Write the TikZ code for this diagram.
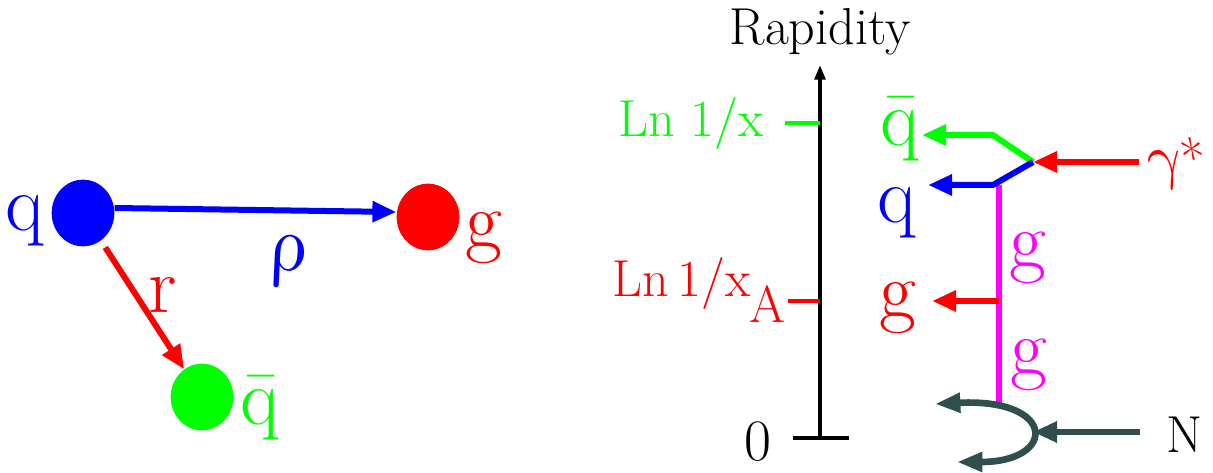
\documentclass[tikz,border=0pt]{standalone}
\usepackage{fontspec}
\usepackage{graphicx}
\usetikzlibrary{arrows.meta, shapes.geometric}

\definecolor{pgreen}{RGB}{0,255,0}
\definecolor{pmagenta}{RGB}{255,0,255}
\definecolor{dslate}{RGB}{47,79,79}

\begin{document}
\begin{tikzpicture}[
  x=0.75pt, y=-0.75pt,
  big/.style={font=\fontsize{60}{62}\selectfont, inner sep=0pt, anchor=base},
  mid/.style={font=\fontsize{39}{42}\selectfont, inner sep=0pt, anchor=base},
  upgreek/.style={transform shape, xslant=-0.2},
  dot/.style={ellipse, minimum width=47pt, minimum height=50pt, inner sep=0pt},
  arrow/.style={-{Triangle[length=18pt, width=15pt]}, line width=4.5pt},
  axarrow/.style={-{Triangle[length=11pt, width=8pt]}, line width=3pt},
  tick/.style={line width=3pt},
  nucl/.style={{Triangle[length=19pt, width=14pt]}-{Triangle[length=19pt, width=14pt]}, line width=5pt, dslate}
]
\useasboundingbox (0,0) rectangle (1213,473);

% =========================
% Left: three partons
% =========================
\node[dot, fill=blue] (qdot) at (83,213) {};
\node[dot, fill=red] (gdot) at (428,217) {};
\node[dot, fill=pgreen] (qbdot) at (202,397) {};

\node[big, blue] (qlab) at (25,231) {q};
\node[big, red] (glab) at (484,248) {g};
\node[big, pgreen] (qblab) at (260,425) {\=q};

\draw[arrow, blue] ([yshift=3.75pt]qdot.east) -- ([yshift=3.75pt]gdot.west);
\draw[arrow, red, shorten <=6pt] (qdot) -- (qbdot);

\node[big, blue, upgreek] (rho) at (289,271) {\scalebox{6}{\normalsize$\rho$}};
\node[big, red] (rlab) at (163,313) {r};

% =========================
% Right: rapidity axis
% =========================
\coordinate (axbot) at (820,438);
\coordinate (axtop) at (820,65);
\coordinate (zl) at (793,438);
\coordinate (zr) at (849,438);
\coordinate (xtick) at (785,123);
\coordinate (xaxis) at (820,123);
\coordinate (atick) at (788,301);
\coordinate (aaxis) at (820,301);

\draw[axarrow] (axbot) -- (axtop);
\draw[tick] (zl) -- (zr);
\draw[tick, pgreen] (xtick) -- (xaxis);
\draw[tick, red] (atick) -- (aaxis);

\node[mid] (rap) at (820,45) {Rapidity};
\node[inner sep=0pt, anchor=base, font=\fontsize{44}{46}\selectfont] (zero) at (758,460) {0};
\node[mid, pgreen] (lnx) at (691,137) {Ln 1/x};
\node[mid, red, anchor=base west] (lnxa) at (612,297) {Ln\,1/x\kern-1pt\raisebox{-19pt}{A}};

% =========================
% Right: the cascade
% =========================
\coordinate (vtx) at (1033,162);
\coordinate (gs) at (1139,162);
\coordinate (qbk) at (993,135);
\coordinate (qbend) at (922,135);
\coordinate (qk) at (993,185);
\coordinate (qend) at (928,185);
\coordinate (gtop) at (999,185);
\coordinate (gbot) at (999,407);
\coordinate (gmid) at (999,301);
\coordinate (gend) at (932,301);
\coordinate (nup) at (935,404);
\coordinate (nlow) at (957,462);
\coordinate (nhit) at (1033,432);
\coordinate (ns) at (1140,432);

\draw[line width=4.5pt, pmagenta] (gtop) -- (gbot);
\draw[arrow, red] (gs) -- (vtx);
\draw[arrow, pgreen, line join=bevel] (vtx) -- (qbk) -- (qbend);
\draw[arrow, blue, line join=bevel] (vtx) -- (qk) -- (qend);
\draw[arrow, red] (gmid) -- (gend);

\draw[nucl] (nup) .. controls (1057,398) and (1057,462) .. (nlow);
\draw[arrow, dslate, line width=5pt] (ns) -- (nhit);

\node[big, pgreen] (qbout) at (900,146) {\=q};
\node[big, blue] (qout) at (897,223) {q};
\node[big, red] (gout) at (898,318) {g};
\node[big, pmagenta] (gup) at (1028,268) {g};
\node[big, pmagenta] (gdown) at (1029,375) {g};
\node[inner sep=0pt, anchor=base, red, upgreek, font=\fontsize{40}{44}\selectfont] (gamma) at (1180,178) {\scalebox{4.6}{\normalsize$\gamma$}*};
\node[mid] (nlab) at (1185,453) {N};

\end{tikzpicture}
\end{document}
